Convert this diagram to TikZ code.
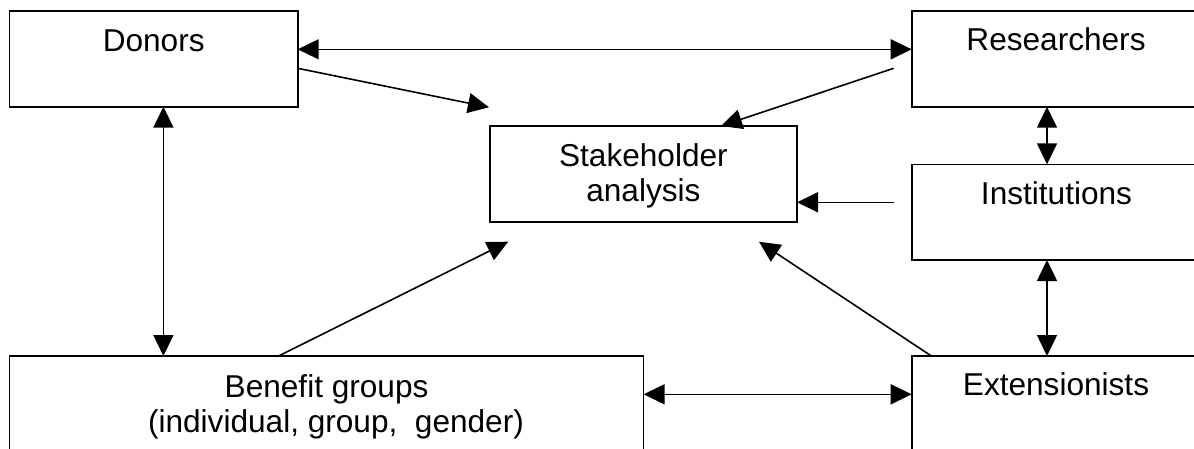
\documentclass[tikz,border=0pt]{standalone}
\usepackage{fontspec}
\setmainfont{Liberation Sans}
\usetikzlibrary{arrows.meta,calc}
\begin{document}
\begin{tikzpicture}[x=1pt,y=-1pt,
  box/.style={draw, line width=1.6pt, rectangle, inner sep=0pt, outer sep=0pt},
  lbl/.style={anchor=base, inner sep=0pt, font=\fontsize{31.6}{36}\selectfont},
  link/.style={line width=1.6pt, -{Triangle[length=21pt,width=20pt]}},
  both/.style={line width=1.6pt, {Triangle[length=21pt,width=20pt]}-{Triangle[length=21pt,width=20pt]}}]
\useasboundingbox (0,0) rectangle (1194,448);
\clip (0,0) rectangle (1194,448);
\fill[white] (0,0) rectangle (1194,448);

% boxes
\node[box, minimum width=288.1pt, minimum height=96pt] (donors) at (153.65,58.7) {};
\node[box, minimum width=288.6pt, minimum height=96pt] (res) at (1056,58.7) {};
\node[box, minimum width=307.1pt, minimum height=95.7pt] (stake) at (643.45,173.85) {};
\node[box, minimum width=288.6pt, minimum height=95.7pt] (inst) at (1056,212.15) {};
\node[box, minimum width=634pt, minimum height=96pt] (ben) at (326.6,404) {};
\node[box, minimum width=288.6pt, minimum height=96pt] (ext) at (1056,404) {};

% texts
\node[lbl] (donorsT) at (153.7,51.5) {Donors};
\node[lbl] (resT) at (1056,50.8) {Researchers};
\node[lbl] (stakeT1) at (643.4,166) {Stakeholder};
\node[lbl] (stakeT2) at (643.4,201.7) {analysis};
\node[lbl] (instT) at (1056.5,204) {Institutions};
\node[lbl] (benT1) at (326.6,397.5) {Benefit groups};
\node[lbl] (benT2) at (336,432.5) {(individual, group,\ \ gender)};
\node[lbl] (extT) at (1056,395.7) {Extensionists};

% helper coordinates
\coordinate (yTop) at (0,49.3);
\coordinate (yDiag) at (0,68.3);
\coordinate (xLeft) at (163.4,0);
\coordinate (xRight) at (1047,0);
\coordinate (yInst) at (0,202.3);
\coordinate (yBot) at (0,394.3);
\coordinate (dnTip) at (489,107.3);
\coordinate (resStart) at (893.6,68.3);
\coordinate (resEnd) at (721,126);
\coordinate (instStart) at (893.6,202.3);
\coordinate (benStart) at (278.6,356);
\coordinate (benTip) at (508.2,241.7);
\coordinate (extStart) at (931.4,356);
\coordinate (extTip) at (759,241.7);

% connectors
\draw[both] (donors.east |- yTop) -- (res.west |- yTop);
\draw[link] (donors.east |- yDiag) -- (dnTip);
\draw[link] (resStart) -- (resEnd);
\draw[both] (res.south -| xRight) -- (inst.north -| xRight);
\draw[link] (instStart) -- (stake.east |- yInst);
\draw[both] (donors.south -| xLeft) -- (ben.north -| xLeft);
\draw[link] (benStart) -- (benTip);
\draw[link] (extStart) -- (extTip);
\draw[both] (inst.south -| xRight) -- (ext.north -| xRight);
\draw[both] (ben.east |- yBot) -- (ext.west |- yBot);
\end{tikzpicture}
\end{document}
